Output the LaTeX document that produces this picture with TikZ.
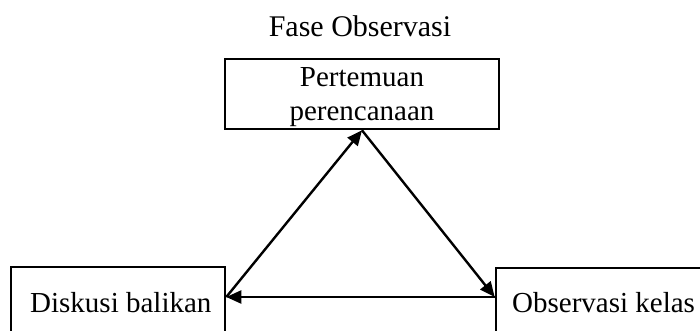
\documentclass[tikz,border=0pt]{standalone}
\usepackage{fontspec}
\setmainfont{Liberation Serif}
\usetikzlibrary{arrows.meta}
\begin{document}
\begin{tikzpicture}[x=1pt,y=-1pt,
  stagebox/.style={draw, line width=2.6pt, inner sep=0pt},
  lbl/.style={font=\fontsize{29}{34}\selectfont, anchor=base, inner sep=0pt},
  link/.style={line width=2.4pt, -{Triangle[length=15pt,width=13pt]}}]
\useasboundingbox (0,0) rectangle (700,331);
\clip (0,0) rectangle (700,331);

% title
\node[lbl, font=\fontsize{30}{34}\selectfont] (title) at (360,37) {Fase Observasi};

% planning meeting (top)
\node[stagebox, minimum width=274pt, minimum height=70pt] (plan) at (362,94) {};
\node[lbl] (planA) at (362,87) {Pertemuan};
\node[lbl] (planB) at (362,121) {perencanaan};

% feedback discussion (left), runs past the lower edge
\node[stagebox, minimum width=214pt, minimum height=100pt] (feedback) at (118,317) {};
\node[lbl, anchor=base west] (feedbackT) at (30,312) {Diskusi balikan};

% class observation (right), runs past the lower and right edges
\node[stagebox, minimum width=264pt, minimum height=100pt] (observe) at (628,318) {};
\node[lbl, anchor=base west] (observeT) at (512,312) {Observasi kelas};

% cycle connectors
\coordinate (lpt) at (feedback.east |- 0,297);
\coordinate (rpt) at (observe.west |- 0,297);
\draw[link] (lpt) -- (plan.south);
\draw[link] (plan.south) -- (rpt);
\draw[link] (rpt) -- (lpt);
\end{tikzpicture}
\end{document}
